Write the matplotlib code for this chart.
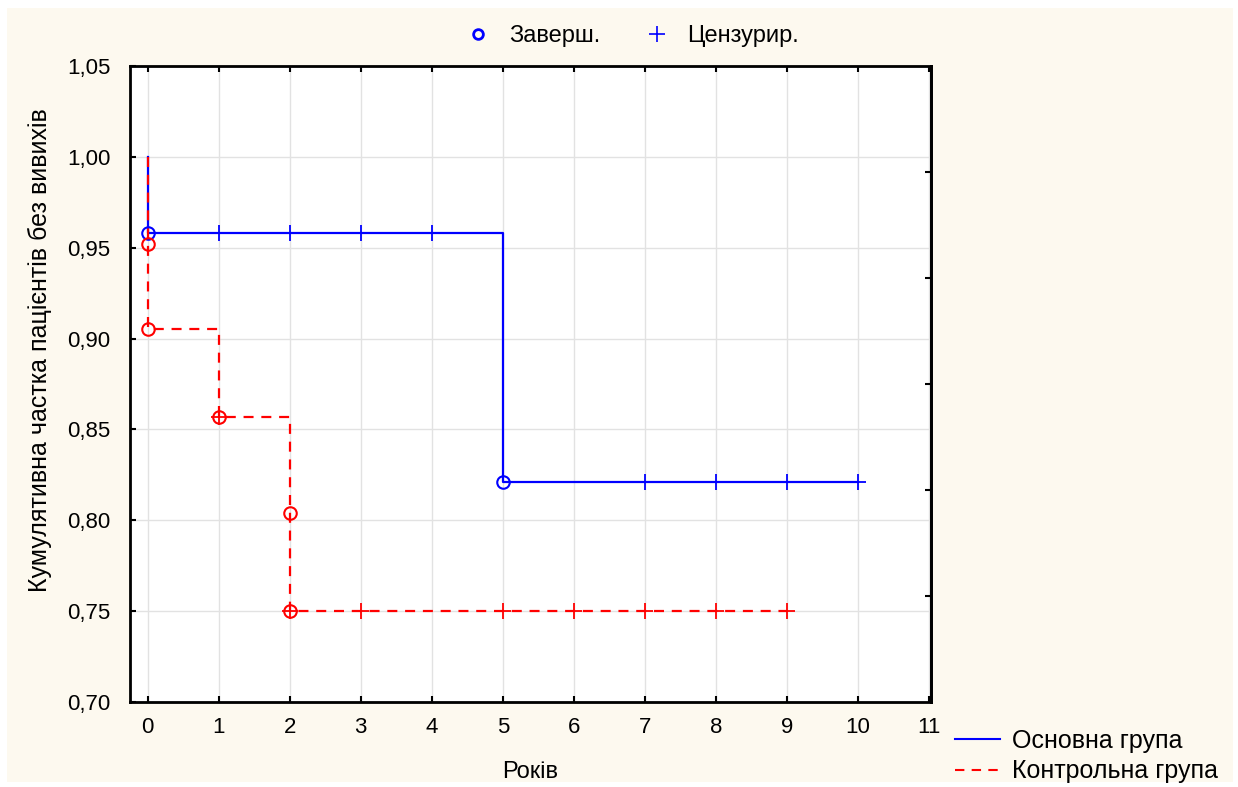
"""
Kaplan-Meier style survival chart: main vs control group
"""
import matplotlib
matplotlib.use('Agg')
import matplotlib.pyplot as plt
from matplotlib.lines import Line2D
from matplotlib.patches import Rectangle

plt.rcParams['font.family'] = ['Liberation Sans', 'DejaVu Sans']

# ============================================================
# Data
# ============================================================
main_times = [0, 0, 5, 10]
main_surv = [1.0, 0.958, 0.821, 0.821]
main_event_t = [0, 5]
main_event_s = [0.958, 0.821]
main_cens_t = [1, 2, 3, 4, 7, 8, 9, 10]
main_cens_s = [0.958, 0.958, 0.958, 0.958, 0.821, 0.821, 0.821, 0.821]

ctrl_times = [0, 0, 0, 1, 2, 2, 9]
ctrl_surv = [1.0, 0.952, 0.905, 0.857, 0.804, 0.750, 0.750]
ctrl_event_t = [0, 0, 1, 2, 2]
ctrl_event_s = [0.952, 0.905, 0.857, 0.804, 0.750]
ctrl_cens_t = [1, 2, 3, 5, 6, 7, 8, 9]
ctrl_cens_s = [0.857, 0.750, 0.750, 0.750, 0.750, 0.750, 0.750, 0.750]

x_ticks = list(range(0, 12))
y_ticks = [0.70, 0.75, 0.80, 0.85, 0.90, 0.95, 1.00, 1.05]
y_labels = ['0,70', '0,75', '0,80', '0,85', '0,90', '0,95', '1,00', '1,05']

BLUE = '#0000ff'
RED = '#ff0000'
CREAM = '#fdf9ef'
FS = 16

# ============================================================
# Figure
# ============================================================
W, H = 1238, 787
fig = plt.figure(figsize=(W / 100, H / 100), dpi=100, facecolor='white')
fig.patches.append(Rectangle((7 / W, 5 / H), 1226 / W, 774 / H, transform=fig.transFigure,
                             facecolor=CREAM, edgecolor='none', zorder=-10))

ax = fig.add_axes([130 / W, 1 - 702 / H, 801 / W, 636 / H])
ax.set_facecolor('white')

ax.plot(main_times, main_surv, drawstyle='steps-post', color=BLUE, lw=1.6, zorder=3)
ax.plot(ctrl_times, ctrl_surv, drawstyle='steps-post', color=RED, lw=1.6,
        linestyle=(0, (4.5, 3.5)), zorder=4)

ax.plot(main_event_t, main_event_s, 'o', ms=9, mfc='none', mec=BLUE, mew=1.5, zorder=5)
ax.plot(main_cens_t, main_cens_s, '+', ms=11, color=BLUE, mew=1.3, zorder=5)
ax.plot(ctrl_event_t, ctrl_event_s, 'o', ms=9, mfc='none', mec=RED, mew=1.5, zorder=5)
ax.plot(ctrl_cens_t, ctrl_cens_s, '+', ms=11, color=RED, mew=1.3, zorder=5)

ax.set_xlim(-0.25, 11.03)
ax.set_ylim(0.70, 1.05)
ax.set_xticks(x_ticks)
ax.set_yticks(y_ticks)
ax.set_yticklabels(y_labels)
ax.grid(True, color='#e2e2e2', lw=1, zorder=0)
ax.tick_params(direction='in', length=4, width=1.5, labelsize=FS, top=True)
ax.tick_params(axis='y', pad=14)
ax.tick_params(axis='x', pad=11)
for s in ax.spines.values():
    s.set_linewidth(2)

# right side ticks split the axis into six equal parts
ax_r = ax.twinx()
ax_r.set_ylim(0, 6)
ax_r.set_yticks([1, 2, 3, 4, 5])
ax_r.set_yticklabels([])
ax_r.tick_params(direction='in', length=4, width=1.5)
ax_r.spines['left'].set_visible(False)
ax_r.spines['right'].set_linewidth(2)

fig.text(40 / W, 1 - 350 / H, 'Кумулятивна частка пацієнтів без вивихів',
         rotation=90, ha='center', va='center', fontsize=FS + 2)
fig.text(530 / W, 1 - 772 / H, 'Років', ha='center', va='center', fontsize=FS + 1)

# top legend: completed / censored
top_handles = [
    Line2D([], [], marker='o', ls='none', ms=7, mfc='none', mec=BLUE, mew=2),
    Line2D([], [], marker='+', ls='none', ms=11, color=BLUE, mew=1.2),
]
fig.legend(top_handles, ['Заверш.', 'Цензурир.'], loc='center',
           bbox_to_anchor=(627 / W, 1 - 36 / H), ncol=2, frameon=False,
           fontsize=FS + 1, columnspacing=1.4, handletextpad=0.3,
           handlelength=2, borderpad=0, borderaxespad=0)

# bottom-right legend: groups
grp_handles = [
    Line2D([], [], color=BLUE, lw=1.5),
    Line2D([], [], color=RED, lw=1.5, linestyle=(0, (4.5, 3.5))),
]
fig.legend(grp_handles, ['Основна група', 'Контрольна група'], loc='upper left',
           bbox_to_anchor=(955 / W, 1 - 729 / H), frameon=False, fontsize=FS + 2,
           handlelength=1.8, handletextpad=0.5, labelspacing=0.25,
           borderaxespad=0, borderpad=0)

plt.savefig('out.png', dpi=100, facecolor=fig.get_facecolor())
